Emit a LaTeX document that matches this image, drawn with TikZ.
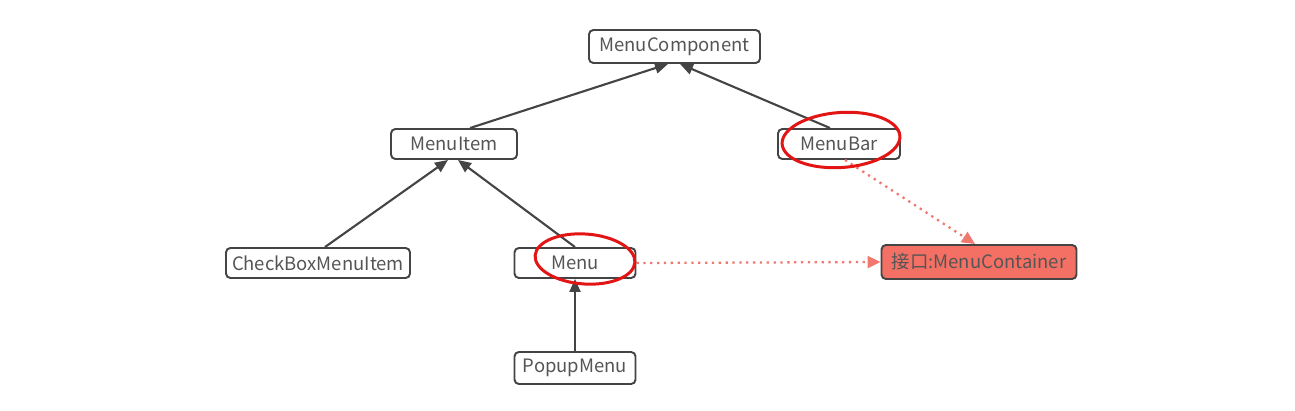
\documentclass[tikz,border=0pt]{standalone}
\usepackage{fontspec}
\setmainfont{Noto Sans CJK SC}
\usetikzlibrary{arrows.meta, positioning, calc, shapes.geometric}
\definecolor{boxline}{RGB}{68, 68, 68}
\definecolor{boxtext}{RGB}{85, 85, 85}
\definecolor{ifacered}{RGB}{244, 112, 100}
\definecolor{dotred}{RGB}{240, 120, 110}
\definecolor{inkred}{RGB}{226, 20, 20}

\begin{document}
\begin{tikzpicture}[
    cls/.style={rectangle, rounded corners=2.5pt, draw=boxline, line width=1.1pt, fill=white, text=boxtext, minimum height=0.6cm, inner sep=2pt, font=\fontsize{10.5}{12}\selectfont},
    inherit/.style={-{Triangle[length=0.26cm, width=0.22cm]}, line width=1.2pt, draw=boxline},
    realize/.style={-{Triangle[length=0.26cm, width=0.24cm]}, line width=1.3pt, draw=dotred, dash pattern=on 1.3pt off 2.6pt},
    ink/.style={draw=inkred, line width=1.7pt}
]
\useasboundingbox (0,0) rectangle (25.9,-8.2);

% Class boxes
\node[cls, minimum width=3.42cm, minimum height=0.66cm] (comp) at (13.49,-0.93) {MenuComponent};
\node[cls, minimum width=2.52cm] (item) at (9.08,-2.88) {MenuItem};
\node[cls, minimum width=2.44cm] (bar) at (16.78,-2.88) {MenuBar};
\node[cls, minimum width=3.68cm] (check) at (6.36,-5.26) {CheckBoxMenuItem};
\node[cls, minimum width=2.42cm] (menu) at (11.5,-5.26) {Menu};
\node[cls, minimum width=2.42cm, minimum height=0.64cm] (popup) at (11.5,-7.36) {PopupMenu};

% Interface
\node[cls, fill=ifacered, minimum width=3.9cm, minimum height=0.68cm] (cont) at (19.58,-5.24) {接口:MenuContainer};

% Inheritance
\draw[inherit] ([xshift=0.32cm]item.north) -- ([xshift=-0.13cm]comp.south);
\draw[inherit] ([xshift=-0.18cm]bar.north) -- ([xshift=0.11cm]comp.south);
\draw[inherit] ([xshift=0.14cm]check.north) -- ([xshift=-0.12cm]item.south);
\draw[inherit] (menu.north) -- ([xshift=0.08cm]item.south);
\draw[inherit] (popup.north) -- (menu.south);

% Implements
\draw[realize] ([xshift=0.12cm]bar.south) -- ([xshift=-0.08cm]cont.north);
\draw[realize] (menu.east) -- (cont.west);

% Hand marks
\draw[ink] (16.82,-2.8) ellipse [x radius=1.18cm, y radius=0.55cm, rotate=4];
\draw[ink] (11.7,-5.18) ellipse [x radius=1.0cm, y radius=0.5cm, rotate=-4];
\end{tikzpicture}
\end{document}
